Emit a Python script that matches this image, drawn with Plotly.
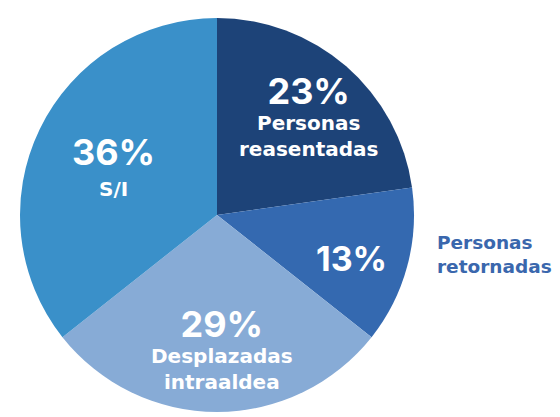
import plotly.graph_objects as go

categories = ["Personas reasentadas", "Personas retornadas", "Desplazadas intraaldea", "S/I"]
label_lines = [["Personas", "reasentadas"], [], ["Desplazadas", "intraaldea"], []]
values = [23, 13, 29, 36]
colors = ["#1d4378", "#3469b0", "#87abd6", "#3a90c9"]
outside_label = ["Personas", "retornadas"]
si_label = "S/I"

OFF = 8  # default body margin of the html page
W, H = 560 - OFF, 417 - OFF
cx, cy, r = 217 - OFF, 215 - OFF, 197

fig = go.Figure(go.Pie(
    labels=categories,
    values=values,
    sort=False,
    direction="clockwise",
    rotation=0,
    marker=dict(colors=colors, line=dict(width=0)),
    textinfo="none",
    hoverinfo="label+percent",
    domain=dict(x=[(cx - r) / W, (cx + r) / W], y=[(H - cy - r) / H, (H - cy + r) / H]),
))

LABEL_FONT = "DejaVu Sans"
PCT_FONT = "Inter"
LS = 20

def px(x):
    return (x - OFF) / W
def py(y):
    return 1 - (y - OFF) / H

# group centres in reference pixels
centres = [(308, 115), (351, 258), (222, 348), (113, 152)]
pct_sizes = [36, 34, 36, 36]

anns = []
for v, lines, (x, y), ps in zip(values, label_lines, centres, pct_sizes):
    txt = f"<span style='font-family:{PCT_FONT};font-size:{ps}px'>{v}%</span>"
    if lines:
        txt += "<br>" + "<br>".join(lines)
    anns.append(dict(text=txt, x=px(x), y=py(y), xref="paper", yref="paper",
                     showarrow=False, xanchor="center", yanchor="middle",
                     font=dict(family=LABEL_FONT, size=LS, color="white", weight="bold")))

anns.append(dict(text=si_label, x=px(113), y=py(189), xref="paper", yref="paper",
                 showarrow=False, xanchor="center", yanchor="middle",
                 font=dict(family=LABEL_FONT, size=LS, color="white", weight="bold")))

anns.append(dict(text="<br>".join(outside_label), x=px(435), y=py(255), xref="paper", yref="paper",
                 showarrow=False, xanchor="left", yanchor="middle", align="left",
                 font=dict(family=LABEL_FONT, size=18.5, color="#3a67ad", weight="bold")))

fig.update_layout(
    width=W, height=H,
    margin=dict(l=0, r=0, t=0, b=0),
    paper_bgcolor="white", plot_bgcolor="white",
    showlegend=False,
    annotations=anns,
)
fig.write_html("out.html")
